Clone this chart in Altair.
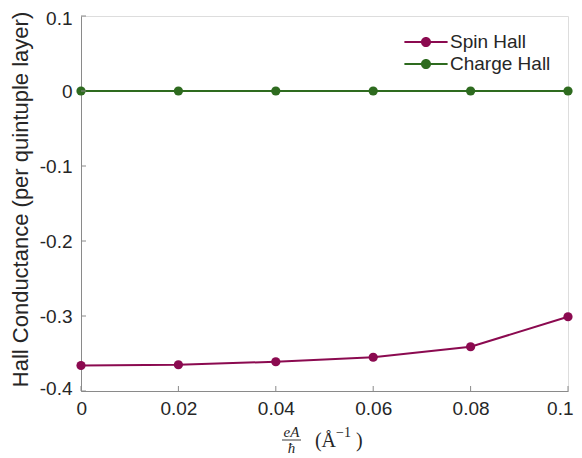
import altair as alt
import pandas as pd

# ---- data ----
x_vals = [0, 0.02, 0.04, 0.06, 0.08, 0.1]
spin_hall = [-0.366, -0.365, -0.361, -0.355, -0.341, -0.301]
charge_hall = [0, 0, 0, 0, 0, 0]
series_names = ["Spin Hall", "Charge Hall"]
series_colors = ["#8B0A50", "#2E6B1F"]
x_ticks = [0, 0.02, 0.04, 0.06, 0.08, 0.1]
y_ticks = [-0.4, -0.3, -0.2, -0.1, 0, 0.1]
y_title = "Hall Conductance (per quintuple layer)"

rows = []
for name, vals in zip(series_names, [spin_hall, charge_hall]):
    for xv, yv in zip(x_vals, vals):
        rows.append({"x": xv, "y": yv, "series": name})
df = pd.DataFrame(rows)

W, H = 487, 375
AXIS_GREY = "#8a8a8a"
TEXT = "#262626"
FONT = "Liberation Sans"
SERIF = "Liberation Serif"

xscale = alt.Scale(domain=[0, 0.1], nice=False, zero=False)
yscale = alt.Scale(domain=[-0.4, 0.1], nice=False, zero=False)
cscale = alt.Scale(domain=series_names, range=series_colors)

# legend symbol: line with filled circle (unit = 12 px when symbolSize=576)
legend_path = ("M-1.8,-0.085H-0.3V0.085H-1.8Z "
               "M0.3,-0.085H1.8V0.085H0.3Z "
               "M0.42,0A0.42,0.42 0 1,1 -0.42,0A0.42,0.42 0 1,1 0.42,0Z")

def make_legend():
    return alt.Legend(
        title=None, orient="none", legendX=333, legendY=14,
        symbolType=legend_path, symbolSize=576, symbolStrokeWidth=0,
        symbolOpacity=1,
        labelFont=FONT, labelFontSize=19, labelColor=TEXT,
        labelOffset=12, rowPadding=0, padding=0,
    )

xaxis = alt.Axis(values=x_ticks, format="~g", tickSize=0, labelPadding=8,
                 labelFontSize=19, labelFont=FONT, labelColor=TEXT,
                 domainColor=AXIS_GREY, grid=False, title=None,
                 labelFlush=True, labelFlushOffset=5)
yaxis = alt.Axis(values=y_ticks, format="~g", tickSize=0, labelPadding=9,
                 labelExpr="replace(datum.label, '\u2212', '-')",
                 labelFontSize=19, labelFont=FONT, labelColor=TEXT,
                 domainColor=AXIS_GREY, grid=False, title=y_title,
                 titleFont=FONT, titleFontSize=22, titleFontWeight="normal",
                 titleColor=TEXT, titleX=-49, titleY=183,
                 labelFlush=True, labelFlushOffset=7)

base = alt.Chart(df)

lines = base.mark_line(strokeWidth=2).encode(
    x=alt.X("x:Q", scale=xscale, axis=xaxis),
    y=alt.Y("y:Q", scale=yscale, axis=yaxis),
    color=alt.Color("series:N", scale=cscale, legend=make_legend()),
    detail="series:N",
)

points = base.mark_point(filled=True, size=85, opacity=1).encode(
    x=alt.X("x:Q", scale=xscale),
    y=alt.Y("y:Q", scale=yscale),
    color=alt.Color("series:N", scale=cscale, legend=make_legend()),
)

# inward tick marks on left and bottom
yt = alt.Chart(pd.DataFrame({"t": y_ticks})).mark_rule(
    color=AXIS_GREY, strokeWidth=1).encode(
    y=alt.Y("t:Q", scale=yscale), x=alt.value(0), x2=alt.value(5))
xt = alt.Chart(pd.DataFrame({"t": x_ticks})).mark_rule(
    color=AXIS_GREY, strokeWidth=1).encode(
    x=alt.X("t:Q", scale=xscale), y=alt.value(H), y2=alt.value(H - 5))

# x-axis title:  eA/ħ (Å^-1)
one = pd.DataFrame({"k": [0]})
def txt(s, xp, yp, size, align="center", baseline="alphabetic", style="normal"):
    return alt.Chart(one).mark_text(
        text=s, font=SERIF, fontSize=size, fontStyle=style, color=TEXT,
        align=align, baseline=baseline).encode(x=alt.value(xp), y=alt.value(yp))

num = txt("eA", 210.5, 421, 15, style="italic")
den = txt("ħ", 210.5, 425, 15, baseline="top", style="italic")
bar = alt.Chart(one).mark_rule(color=TEXT, strokeWidth=0.9).encode(
    x=alt.value(201), x2=alt.value(220), y=alt.value(424))
par1 = txt("(Å", 255, 431, 20, align="right")
sup = txt("\u22121", 255, 421, 14, align="left")
par2 = txt(")", 275, 431, 20, align="left")

chart = alt.layer(lines, points, yt, xt, num, den, bar, par1, sup, par2).properties(
    width=W, height=H,
    autosize=alt.AutoSizeParams(type="none"),
    padding={"left": 73, "top": 8, "right": 6, "bottom": 66},
).configure_view(stroke=AXIS_GREY, strokeWidth=1).configure(background="white")

chart.save("out.html", embed_options={"renderer": "svg", "actions": False})
